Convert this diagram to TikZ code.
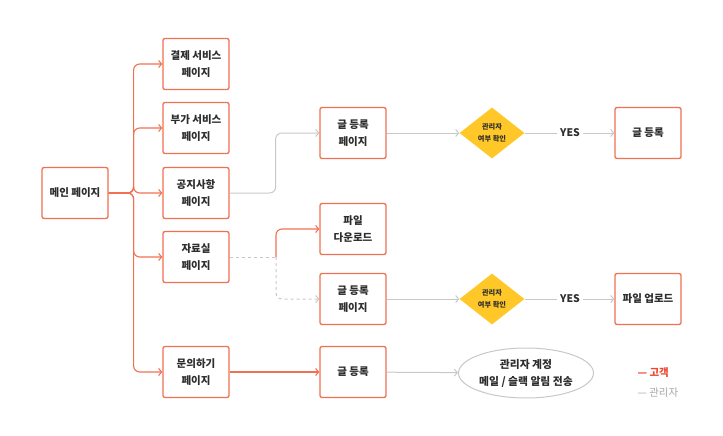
\documentclass[tikz,border=0pt]{standalone}
\usepackage{fontspec}
\setmainfont{Noto Sans CJK KR}
\usetikzlibrary{arrows.meta,shapes.geometric}
\definecolor{corail}{RGB}{240,112,82}
\definecolor{rouge}{RGB}{236,72,50}
\definecolor{gris}{RGB}{200,200,200}
\definecolor{grisclair}{RGB}{165,165,165}
\definecolor{jaune}{RGB}{255,200,40}
\definecolor{texte}{RGB}{45,45,45}
\begin{document}
\begin{tikzpicture}[x=1pt,y=1pt]
% Styles
\tikzstyle{page}=[draw=corail,line width=1.3pt,rounded corners=2pt,fill=white,minimum width=66pt,minimum height=51pt,inner sep=0pt,align=center,text=texte,font=\bfseries\fontsize{10.5}{16.5}\selectfont]
\tikzstyle{controle}=[diamond,fill=jaune,minimum width=65pt,minimum height=51pt,inner sep=0pt,align=center,text=texte,font=\bfseries\fontsize{7.2}{12}\selectfont]
\tikzstyle{envoi}=[ellipse,draw=gris,line width=1pt,fill=white,minimum width=135pt,minimum height=50pt,inner sep=0pt,align=center,text=texte,font=\bfseries\fontsize{10.8}{17}\selectfont]
\tikzstyle{oui}=[text=texte,font=\bfseries\fontsize{10.5}{12}\selectfont]
\tikzstyle{client}=[->,>={Straight Barb[length=3pt,width=7pt]},draw=corail,line width=1.1pt,rounded corners=6pt]
\tikzstyle{admin}=[->,>={Straight Barb[length=3pt,width=7pt]},draw=gris,line width=1pt,rounded corners=6pt]
\tikzstyle{legende}=[anchor=west,font=\fontsize{10.5}{12}\selectfont]
% Cadre
\useasboundingbox (0,0) rectangle (723,-436);
% Colonnes
\def\Xmain{75}
\def\Xmenu{196}
\def\Xpage{353}
\def\Xtest{492}
\def\Xoui{570}
\def\Xfin{648}
% Menu principal
\node[page] (main) at (\Xmain,-193) {메인 페이지};
\node[page] (paiement) at (\Xmenu,-64) {결제 서비스\\페이지};
\node[page] (option) at (\Xmenu,-128) {부가 서비스\\페이지};
\node[page] (avis) at (\Xmenu,-193) {공지사항\\페이지};
\node[page] (archive) at (\Xmenu,-257) {자료실\\페이지};
\node[page] (contact) at (\Xmenu,-372) {문의하기\\페이지};
% Pages suivantes
\node[page] (ecrireA) at (\Xpage,-133) {글 등록\\페이지};
\node[page] (telecharge) at (\Xpage,-229) {파일\\다운로드};
\node[page] (ecrireB) at (\Xpage,-299) {글 등록\\페이지};
\node[page] (ecrireC) at (\Xpage,-372) {글 등록};
% Controle administrateur
\node[controle] (testA) at (\Xtest,-133) {관리자\\여부 확인};
\node[controle] (testB) at (\Xtest,-299) {관리자\\여부 확인};
\node[oui] (ouiA) at (\Xoui,-133) {YES};
\node[oui] (ouiB) at (\Xoui,-299) {YES};
\node[page] (publier) at (\Xfin,-133) {글 등록};
\node[page] (envoyer) at (\Xfin,-299) {파일 업로드};
\node[envoi] (alerte) at (526,-373) {관리자 계정\\메일 / 슬랙 알림 전송};
% Legende
\node[legende,text=rouge,font=\bfseries\fontsize{10.5}{12}\selectfont] (lclient) at (634,-373) {— 고객};
\node[legende,text=grisclair] (ladmin) at (634,-393) {— 관리자};
% Liens administrateur
\draw[admin] (avis.east) -- ++(46,0) |- (ecrireA.west);
\coordinate (fourche) at (276,-257);
\draw[gris,line width=1pt,dashed] (archive.east) -- (fourche);
\draw[admin,dashed] (fourche) |- (ecrireB.west);
\draw[admin] (ecrireA) -- (testA);
\draw[admin] (ecrireB) -- (testB);
\draw[gris,line width=1pt] (testA) -- (ouiA);
\draw[gris,line width=1pt] (testB) -- (ouiB);
\draw[admin] (ouiA) -- (publier);
\draw[admin] (ouiB) -- (envoyer);
\draw[admin] (ecrireC) -- (alerte);
% Liens client
\foreach \cible in {paiement,option,avis,archive,contact}
  \draw[client] (main.east) -- ++(25,0) |- (\cible.west);
\draw[client] (fourche) |- (telecharge.west);
\draw[client] (contact) -- (ecrireC);
\end{tikzpicture}
\end{document}
